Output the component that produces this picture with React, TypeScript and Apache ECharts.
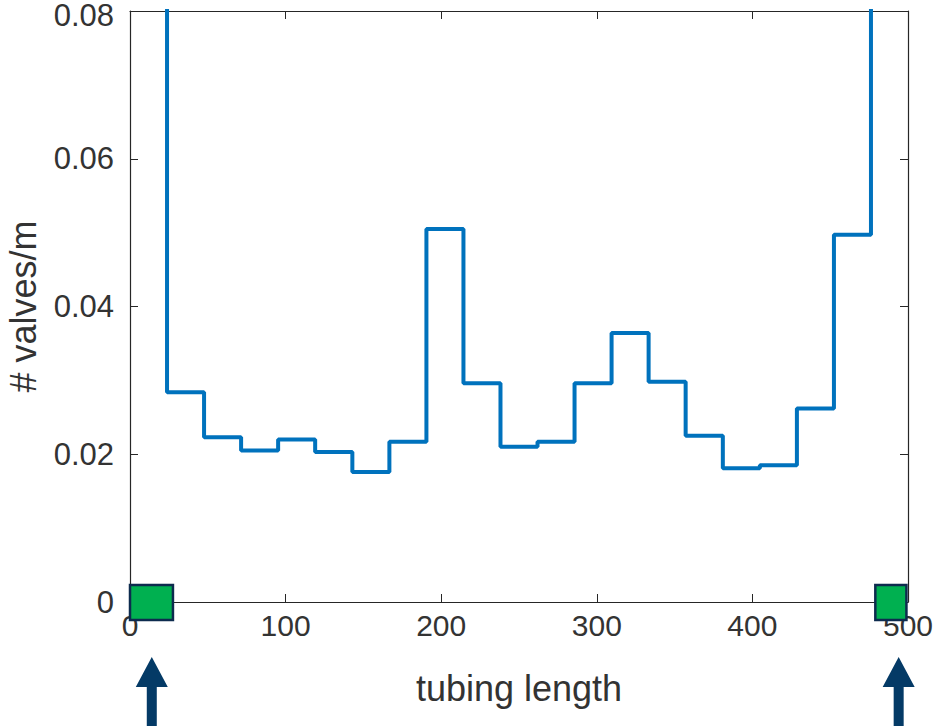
import React, { useEffect, useRef } from "react";
import * as echarts from "echarts";

// Histogram bin edges (tubing length) and densities (# valves/m)
const binEdges = [0, 23.8, 47.6, 71.4, 95.2, 119, 142.9, 166.7, 190.5, 214.3, 238.1, 261.9, 285.7, 309.5, 333.3, 357.1, 381, 404.8, 428.6, 452.4, 476.2, 500];
const binValues = [0.12, 0.0284, 0.0223, 0.0205, 0.022, 0.0203, 0.0176, 0.0217, 0.0505, 0.0296, 0.021, 0.0217, 0.0296, 0.0364, 0.0298, 0.0225, 0.0181, 0.0185, 0.0262, 0.0497, 0.12];

// Green markers at the tubing ends: [start, y, end]
const endMarkers = [
  [0, 0, 27.6],
  [479, 0, 499],
];
// Arrow positions under the axis
const arrowPositions = [
  [14, 0],
  [494, 0],
];

const xTicks = { min: 0, max: 500, interval: 100 };
const yTicks = { min: 0, max: 0.08, interval: 0.02 };

const FONT = "'Liberation Sans', Arial, Helvetica, sans-serif";
const AX = "#262626";
const TXT = "#333333";

export default function App() {
  const ref = useRef<HTMLDivElement>(null);
  useEffect(() => {
    if (!ref.current) return;
    const chart = echarts.init(ref.current, undefined, { renderer: "svg" });
    const lineData: number[][] = binValues.map((v, i) => [binEdges[i], v]);
    lineData.push([binEdges[binEdges.length - 1], binValues[binValues.length - 1]]);

    const axisCommon = {
      axisLine: { show: true, onZero: false, lineStyle: { color: AX, width: 1.2 } },
      axisTick: { show: true, inside: true, length: 8, lineStyle: { color: AX, width: 1 } },
      splitLine: { show: false },
    };

    chart.setOption({
      animation: false,
      backgroundColor: "#ffffff",
      grid: { left: 130, right: 25, top: 11, bottom: 124, containLabel: false, outerBoundsMode: "none" },
      xAxis: [
        {
          type: "value",
          ...xTicks,
          position: "bottom",
          ...axisCommon,
          axisLabel: { color: TXT, fontSize: 30, fontFamily: FONT, margin: 11, lineHeight: 24 },
          name: "tubing length",
          nameLocation: "middle",
          nameGap: 67,
          nameTextStyle: { color: TXT, fontSize: 36, fontFamily: FONT, lineHeight: 38 },
        },
        {
          type: "value",
          ...xTicks,
          position: "top",
          ...axisCommon,
          axisLabel: { show: false },
        },
      ],
      yAxis: [
        {
          type: "value",
          ...yTicks,
          position: "left",
          ...axisCommon,
          axisLabel: {
            color: TXT,
            fontSize: 31,
            fontFamily: FONT,
            margin: 16,
            lineHeight: 22,
            formatter: (v: number) => (v >= yTicks.max ? `{top|${v}}` : `${v}`),
            rich: {
              top: { color: TXT, fontSize: 31, fontFamily: FONT, lineHeight: 22, padding: [9, 0, 0, 0] },
            },
          },
          name: "# valves/m",
          nameLocation: "middle",
          nameGap: 83,
          nameTextStyle: { color: TXT, fontSize: 36, fontFamily: FONT, lineHeight: 38 },
        },
        {
          type: "value",
          ...yTicks,
          position: "right",
          ...axisCommon,
          axisLabel: { show: false },
        },
      ],
      series: [
        {
          type: "line",
          data: lineData,
          step: "end",
          showSymbol: false,
          clip: true,
          lineStyle: { color: "#0072BD", width: 4 },
          z: 3,
        },
        {
          type: "custom",
          clip: false,
          z: 5,
          encode: { x: [0, 2], y: 1 },
          data: endMarkers,
          renderItem: (_p: any, api: any) => {
            const a = api.coord([api.value(0), api.value(1)]);
            const b = api.coord([api.value(2), api.value(1)]);
            return {
              type: "rect",
              shape: { x: a[0], y: a[1] - 17, width: b[0] - a[0], height: 35 },
              style: { fill: "#00B050", stroke: "#0D2B4E", lineWidth: 2.5 },
            };
          },
        },
        {
          type: "custom",
          clip: false,
          z: 5,
          encode: { x: 0, y: 1 },
          data: arrowPositions,
          renderItem: (_p: any, api: any) => {
            const c = api.coord([api.value(0), api.value(1)]);
            const x = c[0];
            const y = c[1];
            return {
              type: "polygon",
              shape: {
                points: [
                  [x, y + 55],
                  [x + 16, y + 85],
                  [x + 5, y + 85],
                  [x + 5, y + 140],
                  [x - 5, y + 140],
                  [x - 5, y + 85],
                  [x - 16, y + 85],
                ],
              },
              style: { fill: "#043A66" },
            };
          },
        },
      ],
    });
    return () => chart.dispose();
  }, []);
  return (
    <div
      ref={ref}
      style={{ position: "absolute", left: 0, top: 0, width: 933, height: 726, background: "#fff" }}
    />
  );
}
